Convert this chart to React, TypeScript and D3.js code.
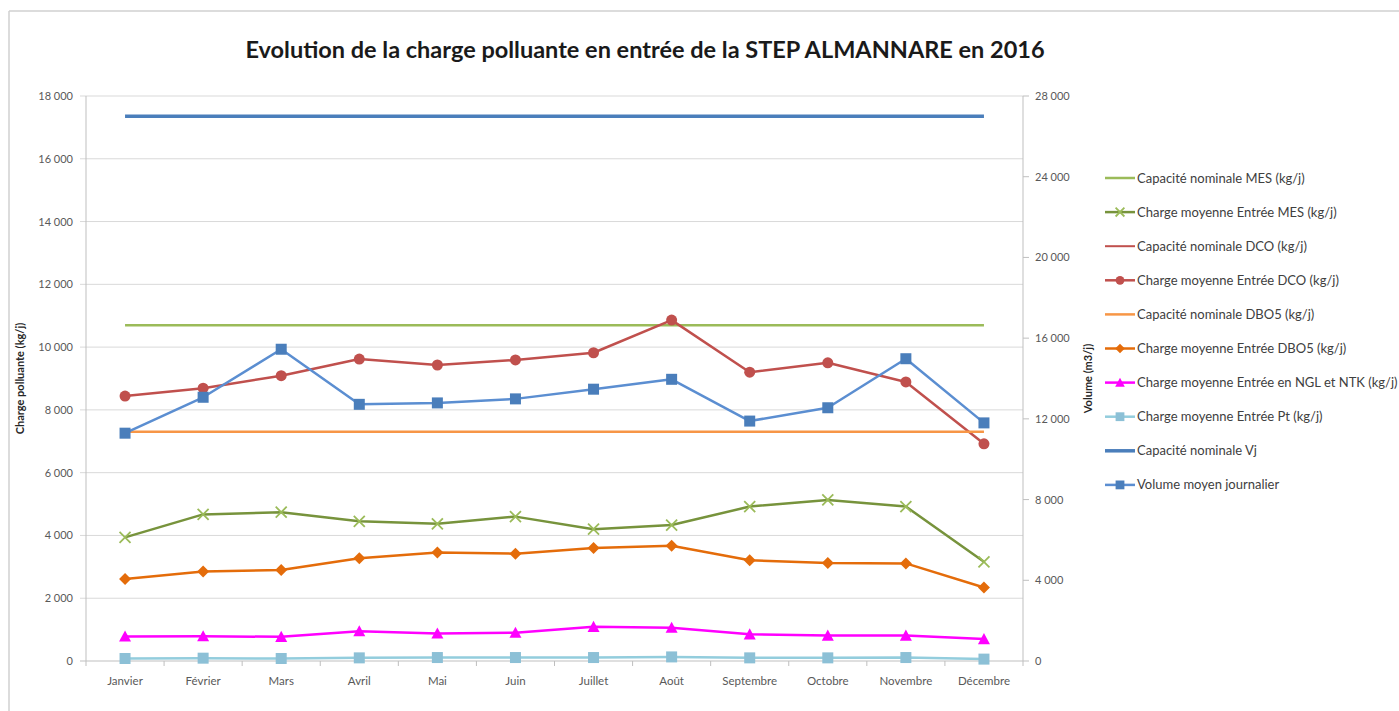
import React from 'react';
import { scaleBand, scaleLinear, line, formatLocale, range } from 'd3';

const months = ['Janvier', 'Février', 'Mars', 'Avril', 'Mai', 'Juin', 'Juillet', 'Août', 'Septembre', 'Octobre', 'Novembre', 'Décembre'];

const capMES = [10700, 10700, 10700, 10700, 10700, 10700, 10700, 10700, 10700, 10700, 10700, 10700];
const chargeMES = [3940, 4670, 4740, 4450, 4370, 4600, 4200, 4330, 4920, 5130, 4920, 3160];
const capDCO = [21400, 21400, 21400, 21400, 21400, 21400, 21400, 21400, 21400, 21400, 21400, 21400];
const chargeDCO = [8440, 8690, 9090, 9620, 9430, 9590, 9820, 10860, 9200, 9500, 8890, 6920];
const capDBO5 = [7300, 7300, 7300, 7300, 7300, 7300, 7300, 7300, 7300, 7300, 7300, 7300];
const chargeDBO5 = [2610, 2850, 2900, 3270, 3460, 3420, 3600, 3670, 3210, 3120, 3110, 2340];
const chargeNGL = [780, 790, 770, 950, 880, 900, 1090, 1060, 850, 810, 810, 700];
const chargePt = [80, 90, 80, 100, 110, 110, 110, 130, 100, 100, 110, 60];
const capVj = [27000, 27000, 27000, 27000, 27000, 27000, 27000, 27000, 27000, 27000, 27000, 27000];
const volume = [11290, 13070, 15450, 12720, 12790, 12990, 13470, 13960, 11890, 12550, 14980, 11800];

const leftTicks = [0, 2000, 4000, 6000, 8000, 10000, 12000, 14000, 16000, 18000];
const rightTicks = [0, 4000, 8000, 12000, 16000, 20000, 24000, 28000];

type Marker = 'none' | 'x' | 'circle' | 'diamond' | 'triangle' | 'square';

interface Series {
  name: string;
  values: number[];
  color: string;
  markerColor?: string;
  width: number;
  marker: Marker;
  axis: 'left' | 'right';
}

const series: Series[] = [
  { name: 'Capacité nominale MES (kg/j)', values: capMES, color: '#9BBB59', width: 2.5, marker: 'none', axis: 'left' },
  { name: 'Charge moyenne Entrée MES (kg/j)', values: chargeMES, color: '#77933C', markerColor: '#9BBB59', width: 2.5, marker: 'x', axis: 'left' },
  { name: 'Capacité nominale DCO (kg/j)', values: capDCO, color: '#C0504D', width: 2, marker: 'none', axis: 'left' },
  { name: 'Charge moyenne Entrée DCO (kg/j)', values: chargeDCO, color: '#C0504D', width: 2.5, marker: 'circle', axis: 'left' },
  { name: 'Capacité nominale DBO5 (kg/j)', values: capDBO5, color: '#F79646', width: 2.5, marker: 'none', axis: 'left' },
  { name: 'Charge moyenne Entrée DBO5 (kg/j)', values: chargeDBO5, color: '#E46C0A', width: 2.5, marker: 'diamond', axis: 'left' },
  { name: 'Charge moyenne Entrée en NGL et NTK (kg/j)', values: chargeNGL, color: '#FF00FF', width: 2.5, marker: 'triangle', axis: 'left' },
  { name: 'Charge moyenne Entrée Pt (kg/j)', values: chargePt, color: '#93CDDD', markerColor: '#8CC0D6', width: 2.5, marker: 'square', axis: 'left' },
  { name: 'Capacité nominale Vj', values: capVj, color: '#4A7EBB', width: 3.5, marker: 'none', axis: 'right' },
  { name: 'Volume moyen journalier', values: volume, color: '#5B8ED1', markerColor: '#4A7EBB', width: 2.5, marker: 'square', axis: 'right' },
];

const fmt = formatLocale({ decimal: ',', thousands: ' ', grouping: [3], currency: ['', ''] }).format(',');

function MarkerShape({ type, x, y, color, s = 1 }: { type: Marker; x: number; y: number; color: string; s?: number }) {
  switch (type) {
    case 'circle':
      return <circle cx={x} cy={y} r={5.5 * s} fill={color} />;
    case 'square':
      return <rect x={x - 5.5 * s} y={y - 5.5 * s} width={11 * s} height={11 * s} fill={color} />;
    case 'diamond': {
      const d = 6 * s;
      return <path d={`M${x},${y - d}L${x + d},${y}L${x},${y + d}L${x - d},${y}Z`} fill={color} />;
    }
    case 'triangle': {
      const d = 6 * s;
      return <path d={`M${x},${y - d}L${x + d},${y + d * 0.85}L${x - d},${y + d * 0.85}Z`} fill={color} />;
    }
    case 'x': {
      const d = 5.5 * s;
      return (
        <path
          d={`M${x - d},${y - d}L${x + d},${y + d}M${x - d},${y + d}L${x + d},${y - d}`}
          stroke={color}
          strokeWidth={1.8}
          fill="none"
        />
      );
    }
    default:
      return null;
  }
}

export default function App() {
  const W = 1399;
  const H = 711;
  const left = 86;
  const right = 1023;
  const top = 96;
  const bottom = 661;

  const x = scaleBand().domain(months).range([left, right]);
  const cx = (m: string) => (x(m) ?? 0) + x.bandwidth() / 2;
  const yL = scaleLinear().domain([0, 18000]).range([bottom, top]);
  const yR = scaleLinear().domain([0, 28000]).range([bottom, top]);

  const font = 'Lato, "Open Sans", sans-serif';

  return (
    <svg width={W} height={H} style={{ position: 'absolute', left: 0, top: 0, background: '#fff' }}>
      <defs>
        <clipPath id="plot">
          <rect x={left} y={top - 2} width={right - left} height={bottom - top + 8} />
        </clipPath>
      </defs>
      {/* frame */}
      <line x1={9} x2={W} y1={11} y2={11} stroke="#D0D0D0" strokeWidth={1.5} />
      <line x1={9} x2={9} y1={11} y2={H} stroke="#D0D0D0" strokeWidth={1.5} />

      <text x={645} y={58} textAnchor="middle" fontFamily={font} fontWeight="bold" fontSize={23.5} fill="#1a1a1a">
        Evolution de la charge polluante en entrée de la STEP ALMANNARE en 2016
      </text>

      {/* gridlines + left axis */}
      {leftTicks.map((t) => (
        <g key={`l${t}`}>
          <line x1={left - 6} x2={right} y1={yL(t)} y2={yL(t)} stroke={t === 0 ? '#BFBFBF' : '#D9D9D9'} strokeWidth={1} />
          <text x={left - 13} y={yL(t) + 4} textAnchor="end" fontFamily={font} fontSize={11} fill="#595959">
            {fmt(t)}
          </text>
        </g>
      ))}
      <line x1={left} x2={left} y1={top} y2={bottom} stroke="#BFBFBF" />

      {/* right axis */}
      <line x1={right} x2={right} y1={top} y2={bottom} stroke="#BFBFBF" />
      {rightTicks.map((t) => (
        <g key={`r${t}`}>
          <line x1={right} x2={right + 6} y1={yR(t)} y2={yR(t)} stroke="#BFBFBF" />
          <text x={right + 12} y={yR(t) + 4} fontFamily={font} fontSize={11} fill="#595959">
            {fmt(t)}
          </text>
        </g>
      ))}

      {/* x axis */}
      {range(months.length + 1).map((i) => {
        const xx = i < months.length ? (x(months[i]) ?? 0) : right;
        return <line key={`xt${i}`} x1={xx} x2={xx} y1={bottom} y2={bottom + 5} stroke="#BFBFBF" />;
      })}
      {months.map((m) => (
        <text key={m} x={cx(m)} y={685} textAnchor="middle" fontFamily={font} fontSize={11.5} fill="#595959">
          {m}
        </text>
      ))}

      {/* axis titles */}
      <text
        transform={`translate(24, ${(top + bottom) / 2}) rotate(-90)`}
        textAnchor="middle"
        fontFamily={font}
        fontWeight="bold"
        fontSize={11}
        fill="#262626"
      >
        Charge polluante (kg/j)
      </text>
      <text
        transform={`translate(1092, ${(top + bottom) / 2}) rotate(-90)`}
        textAnchor="middle"
        fontFamily={font}
        fontWeight="bold"
        fontSize={11}
        fill="#262626"
      >
        Volume (m3/j)
      </text>

      {/* series */}
      <g clipPath="url(#plot)">
        {series.map((s) => {
          const y = s.axis === 'left' ? yL : yR;
          const gen = line<number>()
            .x((_, i) => cx(months[i]))
            .y((v) => y(v));
          return (
            <g key={s.name}>
              <path d={gen(s.values) ?? ''} fill="none" stroke={s.color} strokeWidth={s.width} strokeLinejoin="round" />
              {s.values.map((v, i) => (
                <MarkerShape key={i} type={s.marker} x={cx(months[i])} y={y(v)} color={s.markerColor ?? s.color} />
              ))}
            </g>
          );
        })}
      </g>

      {/* legend */}
      {series.map((s, i) => {
        const ly = 178 + i * 34.1;
        return (
          <g key={`lg${i}`}>
            <line x1={1105} x2={1135} y1={ly} y2={ly} stroke={s.color} strokeWidth={s.width} />
            <MarkerShape type={s.marker} x={1120} y={ly} color={s.markerColor ?? s.color} s={0.8} />
            <text x={1137} y={ly + 4.5} fontFamily={font} fontSize={13} fill="#404040">
              {s.name}
            </text>
          </g>
        );
      })}
    </svg>
  );
}
